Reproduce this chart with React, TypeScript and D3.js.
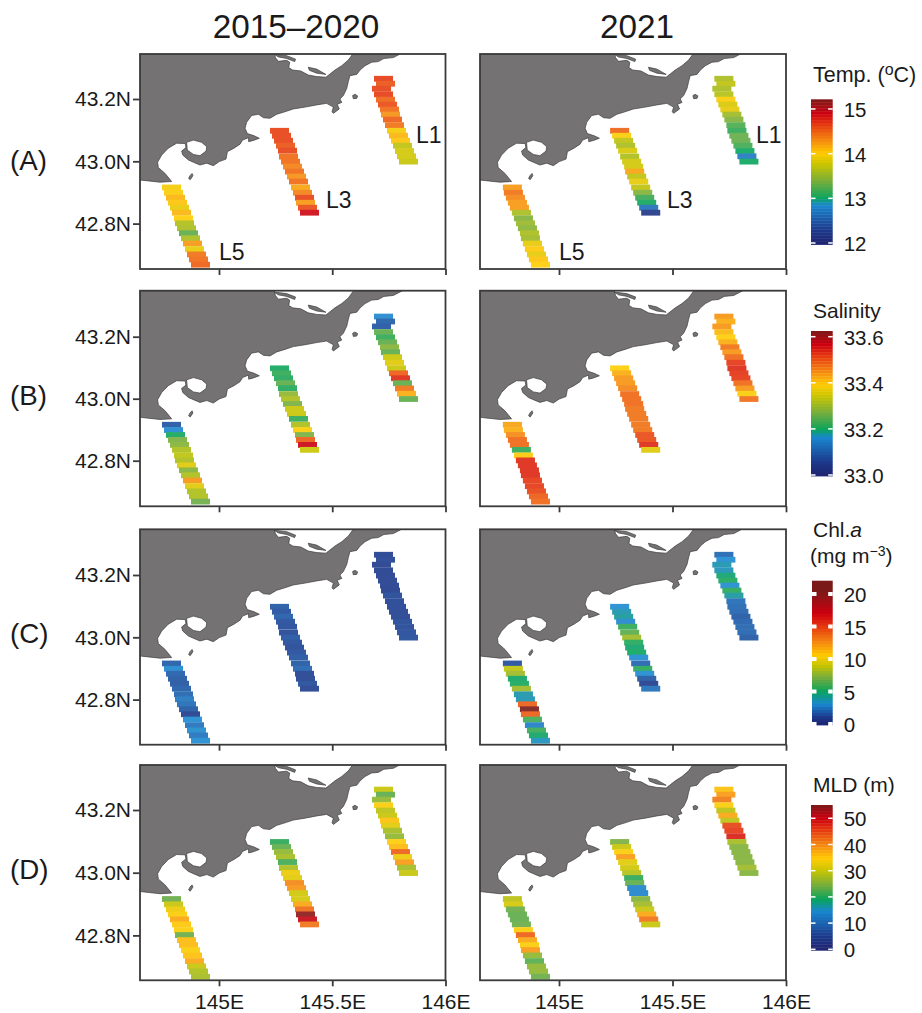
import React, { useEffect, useRef } from "react";
import * as d3 from "d3";

// station positions (lon differs a little between the two periods)
const latL1 = [43.265, 43.249, 43.233, 43.215, 43.198, 43.182, 43.166, 43.15, 43.134, 43.116, 43.098, 43.082, 43.066, 43.05, 43.033, 43.016, 42.999];
const latL3 = [43.098, 43.082, 43.066, 43.05, 43.034, 43.015, 42.999, 42.983, 42.967, 42.951, 42.935, 42.916, 42.899, 42.883, 42.867, 42.851, 42.835];
const latL5 = [42.916, 42.899, 42.883, 42.867, 42.851, 42.835, 42.817, 42.801, 42.785, 42.769, 42.753, 42.736, 42.718, 42.701, 42.685, 42.668];

const lonL1a = [145.7263, 145.7351, 145.7174, 145.7263, 145.7351, 145.7439, 145.7528, 145.7572, 145.766, 145.7748, 145.7837, 145.7925, 145.8013, 145.8102, 145.819, 145.8278, 145.8366];
const lonL1b = [145.7263, 145.7351, 145.7174, 145.7263, 145.7351, 145.7439, 145.7528, 145.7616, 145.7704, 145.7793, 145.7837, 145.7925, 145.8013, 145.8102, 145.819, 145.8278, 145.8366];
const lonL3a = [145.2671, 145.2759, 145.2848, 145.2936, 145.3024, 145.3068, 145.3157, 145.3245, 145.3333, 145.3422, 145.351, 145.3598, 145.3687, 145.3775, 145.3819, 145.3907, 145.3996];
const lonL3b = [145.2671, 145.2759, 145.2848, 145.2936, 145.3024, 145.3113, 145.3201, 145.3289, 145.3333, 145.3422, 145.351, 145.3598, 145.3687, 145.3775, 145.3863, 145.3951, 145.404];
const lonL5a = [144.7903, 144.7991, 144.8079, 144.8168, 144.8256, 144.8344, 144.8433, 144.8477, 144.8565, 144.8653, 144.8742, 144.883, 144.8918, 144.9007, 144.9095, 144.9183];
const lonL5b = [144.7947, 144.7991, 144.8079, 144.8168, 144.8256, 144.8344, 144.8433, 144.8521, 144.8609, 144.8698, 144.8742, 144.883, 144.8918, 144.9007, 144.9095, 144.9183];

// Temperature
const tempL1a = [14.65, 14.55, 14.62, 14.65, 14.48, 14.58, 14.45, 14.28, 14.5, 14.42, 13.95, 14.12, 14.05, 13.7, 13.78, 13.78, 13.73];
const tempL3a = [14.62, 14.62, 14.62, 14.55, 14.62, 14.45, 14.45, 14.35, 14.45, 14.28, 14.45, 14.2, 14.35, 14.62, 14.25, 14.58, 14.88];
const tempL5a = [13.95, 13.98, 14.12, 14.05, 13.9, 14.12, 14.0, 13.63, 13.6, 13.28, 13.6, 14.25, 13.9, 14.42, 14.45, 14.5];
const tempL1b = [13.6, 13.7, 13.6, 13.65, 13.98, 13.82, 13.88, 13.55, 13.42, 13.22, 13.12, 13.3, 13.3, 13.18, 13.0, 12.72, 13.0];
const tempL3b = [14.48, 13.98, 13.7, 13.6, 13.82, 13.62, 13.78, 13.78, 14.2, 13.7, 13.88, 13.7, 13.42, 13.15, 13.02, 12.65, 12.22];
const tempL5b = [14.25, 14.42, 14.33, 14.25, 14.25, 13.6, 13.42, 13.52, 13.45, 13.6, 13.55, 13.88, 14.03, 13.88, 14.05, 14.0];

// Salinity
const salL1a = [33.16, 33.1, 33.09, 33.25, 33.22, 33.25, 33.28, 33.25, 33.34, 33.36, 33.34, 33.49, 33.535, 33.25, 33.47, 33.42, 33.25];
const salL3a = [33.2, 33.22, 33.21, 33.25, 33.21, 33.29, 33.315, 33.27, 33.34, 33.34, 33.22, 33.315, 33.385, 33.27, 33.49, 33.57, 33.34];
const salL5a = [33.09, 33.16, 33.2, 33.27, 33.28, 33.315, 33.33, 33.315, 33.36, 33.28, 33.315, 33.44, 33.36, 33.315, 33.315, 33.26];
const salL1b = [33.44, 33.42, 33.44, 33.41, 33.39, 33.42, 33.47, 33.44, 33.48, 33.52, 33.535, 33.525, 33.52, 33.48, 33.44, 33.385, 33.475];
const salL3b = [33.39, 33.42, 33.44, 33.44, 33.455, 33.48, 33.48, 33.48, 33.47, 33.47, 33.47, 33.47, 33.47, 33.505, 33.505, 33.535, 33.36];
const salL5b = [33.43, 33.42, 33.45, 33.48, 33.48, 33.22, 33.395, 33.535, 33.535, 33.535, 33.535, 33.52, 33.52, 33.51, 33.49, 33.48];

// Chlorophyll a
const chlL1a = [1.1, 1.2, 1.0, 1.0, 1.0, 1.05, 1.05, 1.0, 1.3, 1.2, 1.2, 1.15, 1.15, 1.3, 1.3, 1.35, 1.4];
const chlL3a = [1.7, 1.5, 1.8, 1.45, 1.35, 1.3, 1.6, 1.4, 1.3, 1.45, 1.6, 1.7, 2.0, 1.2, 1.15, 1.4, 1.15];
const chlL5a = [1.8, 2.9, 1.9, 1.7, 1.6, 1.8, 2.0, 2.5, 2.2, 1.7, 1.0, 3.0, 2.4, 3.1, 2.4, 3.0];
const chlL1b = [2.1, 3.0, 3.6, 3.5, 4.7, 5.3, 3.0, 5.5, 3.9, 2.2, 2.1, 2.0, 1.7, 1.9, 2.0, 2.0, 1.7];
const chlL3b = [3.0, 3.6, 4.0, 2.9, 5.7, 6.5, 8.0, 5.4, 4.8, 5.0, 3.0, 2.0, 5.5, 3.0, 1.7, 1.0, 2.3];
const chlL5b = [1.5, 8.8, 8.0, 4.9, 5.2, 7.9, 3.7, 3.6, 14, 21, 14, 6, 2.7, 5.8, 4.9, 3.4];

// Mixed layer depth
const mldL1a = [29.7, 23, 26, 34, 29, 29.7, 35.5, 32, 27.5, 26, 34.5, 36, 43, 33, 38.5, 27.5, 29.7];
const mldL3a = [20.5, 23, 26, 27.5, 21.5, 28, 33, 32, 40, 39, 30.5, 31, 37.5, 42, 54, 50.5, 41.5];
const mldL5a = [23.5, 29.7, 33, 34, 37.5, 35, 34, 23.5, 36, 36, 34, 35.5, 37.5, 29.7, 28, 27.5];
const mldL1b = [35.5, 38.5, 41, 34, 29, 37.5, 29, 45, 46, 48, 27.5, 25, 25, 25, 25, 27, 25];
const mldL3b = [24.5, 29.7, 34, 38.5, 32, 30.5, 28.5, 20.5, 23, 13.5, 13.5, 25, 27, 29.7, 37.5, 41.5, 29.7];
const mldL5b = [29, 31, 23.5, 23, 23, 23.5, 34, 43, 37.5, 34, 38.5, 26, 22.5, 26, 26, 23.5];

const palette = ["#1f2370", "#1c3a8c", "#1a88d0", "#08a45c", "#70ac40", "#c8c400", "#ffcc00", "#f58a10", "#e63810", "#cc0010", "#7a1a18"];
const tempStops = [11.97, 12.3, 12.85, 13.0, 13.35, 13.75, 14.0, 14.3, 14.65, 14.9, 15.22];
const salStops = [32.995, 33.057, 33.164, 33.195, 33.265, 33.34, 33.39, 33.447, 33.517, 33.567, 33.625];
const chlStops = [-0.15, 1.1, 3, 5, 7, 9, 10.5, 12.5, 15, 17, 20.5];
const mldStops = [-0.4, 5, 14.5, 19, 24, 30, 34.5, 39.5, 45.5, 50, 55.08];

const latTicks = [42.8, 43.0, 43.2];
const lonTicks = [145, 145.5, 146];
const rowNames = ["(A)", "(B)", "(C)", "(D)"];
const columnTitles = ["2015–2020", "2021"];

// coastline, traced by hand, as [lon, lat]
const coast: [number, number][] = [
  [145.243, 43.352], [145.249, 43.333], [145.262, 43.321], [145.299, 43.324], [145.312, 43.318], [145.308, 43.301],
  [145.325, 43.293], [145.361, 43.29], [145.394, 43.277], [145.431, 43.272], [145.472, 43.27], [145.512, 43.293],
  [145.542, 43.307], [145.571, 43.325], [145.596, 43.35], [145.814, 43.35], [145.77, 43.333], [145.728, 43.33],
  [145.703, 43.32], [145.674, 43.318], [145.645, 43.307], [145.623, 43.293], [145.608, 43.279], [145.578, 43.275],
  [145.571, 43.256], [145.564, 43.234], [145.549, 43.211], [145.534, 43.2], [145.542, 43.189], [145.522, 43.183],
  [145.531, 43.168], [145.505, 43.154], [145.499, 43.159], [145.505, 43.174], [145.475, 43.186], [145.431, 43.181],
  [145.38, 43.174], [145.328, 43.168], [145.291, 43.159], [145.255, 43.151], [145.225, 43.138], [145.196, 43.14],
  [145.174, 43.151], [145.144, 43.147], [145.122, 43.125], [145.115, 43.106], [145.125, 43.089], [145.155, 43.082],
  [145.178, 43.074], [145.152, 43.067], [145.131, 43.063], [145.13, 43.076], [145.104, 43.068], [145.093, 43.055],
  [145.066, 43.042], [145.037, 43.031], [145.031, 43.007], [145.001, 42.999], [144.975, 42.986], [144.946, 42.994],
  [144.916, 42.988], [144.887, 42.997], [144.865, 43.004], [144.84, 43.02], [144.835, 43.033], [144.854, 43.044],
  [144.851, 43.057], [144.813, 43.058], [144.776, 43.042], [144.747, 43.02], [144.729, 42.997], [144.732, 42.98],
  [144.762, 42.961], [144.791, 42.935], [144.74, 42.933], [144.688, 42.937], [144.651, 42.94], [144.62, 42.94], [144.62, 43.352],
];
const lake: [number, number][] = [
  [144.857, 43.061], [144.887, 43.068], [144.923, 43.061], [144.946, 43.047], [144.943, 43.033], [144.916, 43.018], [144.887, 43.022], [144.86, 43.036],
];
const islands: [number, number][][] = [
  [[144.881, 42.961], [144.885, 42.954], [144.873, 42.941], [144.866, 42.945], [144.872, 42.954]],
  [[145.59, 43.211], [145.6, 43.215], [145.612, 43.21], [145.608, 43.202], [145.593, 43.201]],
  [[145.243, 43.344], [145.299, 43.339], [145.338, 43.328], [145.334, 43.32], [145.299, 43.33], [145.262, 43.335]],
  [[145.394, 43.302], [145.431, 43.296], [145.472, 43.279], [145.431, 43.283], [145.399, 43.292]],
];

const rows = [
  { top: 54, bottom: 269, y43: 161.3, y432: 99, labelY: 170 },
  { top: 290.7, bottom: 506.3, y43: 398.7, y432: 336.7, labelY: 405 },
  { top: 529.3, bottom: 744.7, y43: 637.3, y432: 575, labelY: 643 },
  { top: 765, bottom: 980.3, y43: 872.7, y432: 810, labelY: 879 },
];
const columns = [
  { left: 140, right: 445.5, x145: 219, x146: 445.5 },
  { left: 480, right: 786, x145: 559, x146: 786 },
];

const variables = [
  { stops: tempStops, a: [tempL1a, tempL3a, tempL5a], b: [tempL1b, tempL3b, tempL5b] },
  { stops: salStops, a: [salL1a, salL3a, salL5a], b: [salL1b, salL3b, salL5b] },
  { stops: chlStops, a: [chlL1a, chlL3a, chlL5a], b: [chlL1b, chlL3b, chlL5b] },
  { stops: mldStops, a: [mldL1a, mldL3a, mldL5a], b: [mldL1b, mldL3b, mldL5b] },
];

const legends = [
  { stops: tempStops, ticks: [12, 13, 14, 15], fmt: "d", v0: 12, y0: 243, v1: 15, y1: 109, top: 99.3, bottom: 244.5, x0: 811, tickH: 1.5 },
  { stops: salStops, ticks: [33, 33.2, 33.4, 33.6], fmt: ".1f", v0: 33, y0: 475, v1: 33.6, y1: 336.7, top: 331, bottom: 476, x0: 811, tickH: 1.5 },
  { stops: chlStops, ticks: [0, 5, 10, 15, 20], fmt: "d", v0: 0, y0: 724, v1: 20, y1: 594, top: 580.7, bottom: 725, x0: 812, tickH: 4 },
  { stops: mldStops, ticks: [0, 10, 20, 30, 40, 50], fmt: "d", v0: 0, y0: 949.3, v1: 50, y1: 818.3, top: 805, bottom: 950.3, x0: 811, tickH: 1.5 },
];

const FONT = "'Liberation Sans', Arial, sans-serif";
const INK = "#1a1a1a";
const FRAME = "#3a3a3a";

const App = () => {
  const svgRef = useRef<SVGSVGElement>(null);

  useEffect(() => {
    const svg = d3.select(svgRef.current);
    svg.selectAll("*").remove();
    svg.attr("font-family", FONT).attr("fill", INK);

    columnTitles.forEach((t, c) => {
      svg.append("text").attr("x", c === 0 ? 296 : 637).attr("y", 38).attr("text-anchor", "middle")
        .attr("font-size", 33.3).text(t);
    });

    rows.forEach((row, r) => {
      svg.append("text").attr("x", 10).attr("y", row.labelY).attr("font-size", 27.7).text(rowNames[r]);

      columns.forEach((col, c) => {
        const x = d3.scaleLinear().domain([145, 146]).range([col.x145, col.x146]);
        const y = d3.scaleLinear().domain([43.0, 43.2]).range([row.y43, row.y432]);
        const clipId = `clip-${r}-${c}`;
        svg.append("clipPath").attr("id", clipId).append("rect")
          .attr("x", col.left).attr("y", row.top)
          .attr("width", col.right - col.left).attr("height", row.bottom - row.top);

        const g = svg.append("g").attr("clip-path", `url(#${clipId})`);
        const line = d3.line<[number, number]>().x((d) => x(d[0])).y((d) => y(d[1]));

        // land, with the lake cut out
        g.append("path")
          .attr("d", (line(coast) as string) + "Z" + (line(lake) as string) + "Z")
          .attr("fill", "#757273").attr("fill-rule", "evenodd")
          .attr("stroke", "#3c3c3c").attr("stroke-width", 0.7);
        islands.forEach((isl) => {
          g.append("path").attr("d", (line(isl) as string) + "Z")
            .attr("fill", "#757273").attr("stroke", "#3c3c3c").attr("stroke-width", 0.7);
        });

        // transect cells, slightly paler than the colour bar
        const v = variables[r];
        const color = d3.scaleLinear<string>().domain(v.stops).range(palette).clamp(true);
        const lons = c === 0 ? [lonL1a, lonL3a, lonL5a] : [lonL1b, lonL3b, lonL5b];
        const lats = [latL1, latL3, latL5];
        const vals = c === 0 ? v.a : v.b;
        const cellW = x(145.0839) - x(145);
        const cellH = y(43) - y(43.0186);
        lats.forEach((latArr, t) => {
          g.selectAll(null).data(latArr).enter().append("rect")
            .attr("x", (_, i) => x(lons[t][i]) - cellW / 2)
            .attr("y", (d) => y(d) - cellH / 2)
            .attr("width", cellW).attr("height", cellH)
            .attr("fill", (_, i) => d3.interpolateRgb(color(vals[t][i]), "#ffffff")(0.1));
        });

        // panel frame
        svg.append("rect").attr("x", col.left).attr("y", row.top)
          .attr("width", col.right - col.left).attr("height", row.bottom - row.top)
          .attr("fill", "none").attr("stroke", FRAME).attr("stroke-width", 1.8);

        // axes
        const xAxis = d3.axisBottom(x).tickValues(lonTicks).tickSize(6).tickPadding(8)
          .tickFormat((d) => (r === 3 ? `${d}E` : ""));
        const gx = svg.append("g").attr("transform", `translate(0,${row.bottom})`).call(xAxis);
        gx.select(".domain").remove();
        gx.selectAll("line").attr("stroke", FRAME).attr("stroke-width", 1.8);
        gx.selectAll("text").attr("font-size", 21).attr("font-family", FONT).attr("fill", INK);

        if (c === 0) {
          const yAxis = d3.axisLeft(y).tickValues(latTicks).tickSize(7).tickPadding(2)
            .tickFormat((d) => `${d3.format(".1f")(d as number)}N`);
          const gy = svg.append("g").attr("transform", `translate(${col.left},0)`).call(yAxis);
          gy.select(".domain").remove();
          gy.selectAll("line").attr("stroke", FRAME).attr("stroke-width", 1.8);
          gy.selectAll("text").attr("font-size", 21).attr("font-family", FONT).attr("fill", INK);
        }

        // transect labels only in the top row
        if (r === 0) {
          const labelX = c === 0 ? [416, 326, 219] : [756, 667, 559];
          const labelY = [143, 208, 260];
          ["L1", "L3", "L5"].forEach((t, i) => {
            svg.append("text").attr("x", labelX[i]).attr("y", labelY[i]).attr("font-size", 23).text(t);
          });
        }
      });
    });

    // colour bars
    legends.forEach((leg) => {
      const yv = d3.scaleLinear().domain([leg.v0, leg.v1]).range([leg.y0, leg.y1]);
      const color = d3.scaleLinear<string>().domain(leg.stops).range(palette).clamp(true);
      const x1 = 832.7;
      const nBins = 48;
      const binH = (leg.bottom - leg.top) / nBins;
      d3.range(nBins).forEach((i) => {
        const yTop = leg.top + i * binH;
        svg.append("rect").attr("x", leg.x0).attr("y", yTop)
          .attr("width", x1 - leg.x0).attr("height", binH + 0.4)
          .attr("fill", color(yv.invert(yTop + binH / 2)));
      });
      leg.ticks.forEach((t) => {
        [leg.x0, x1 - 4.5].forEach((tx) => {
          svg.append("rect").attr("x", tx).attr("y", yv(t) - leg.tickH / 2)
            .attr("width", 4.5).attr("height", leg.tickH).attr("fill", "white");
        });
      });
      const axis = d3.axisRight(yv).tickValues(leg.ticks).tickSize(0).tickPadding(11)
        .tickFormat((d) => d3.format(leg.fmt)(d as number));
      const ga = svg.append("g").attr("transform", `translate(${x1},1)`).call(axis);
      ga.select(".domain").remove();
      ga.selectAll("text").attr("font-size", 20.5).attr("font-family", FONT).attr("fill", INK);
    });

    // legend titles
    const temp = svg.append("text").attr("x", 813).attr("y", 82).attr("font-size", 21.5);
    temp.append("tspan").text("Temp. (");
    temp.append("tspan").attr("dy", -7).attr("font-size", 16).text("o");
    temp.append("tspan").attr("dy", 7).text("C)");
    svg.append("text").attr("x", 813).attr("y", 318).attr("font-size", 21).text("Salinity");
    const chl = svg.append("text").attr("x", 813).attr("y", 537).attr("font-size", 21);
    chl.append("tspan").text("Chl.");
    chl.append("tspan").attr("font-style", "italic").text("a");
    const unit = svg.append("text").attr("x", 810).attr("y", 563).attr("font-size", 21);
    unit.append("tspan").text("(mg m");
    unit.append("tspan").attr("dy", -7).attr("font-size", 14).text("−3");
    unit.append("tspan").attr("dy", 7).text(")");
    svg.append("text").attr("x", 813).attr("y", 792).attr("font-size", 21).text("MLD (m)");
  }, []);

  return (
    <svg
      ref={svgRef}
      width={922}
      height={1013}
      style={{ position: "absolute", left: 0, top: 0, background: "white" }}
    />
  );
};

export default App;
